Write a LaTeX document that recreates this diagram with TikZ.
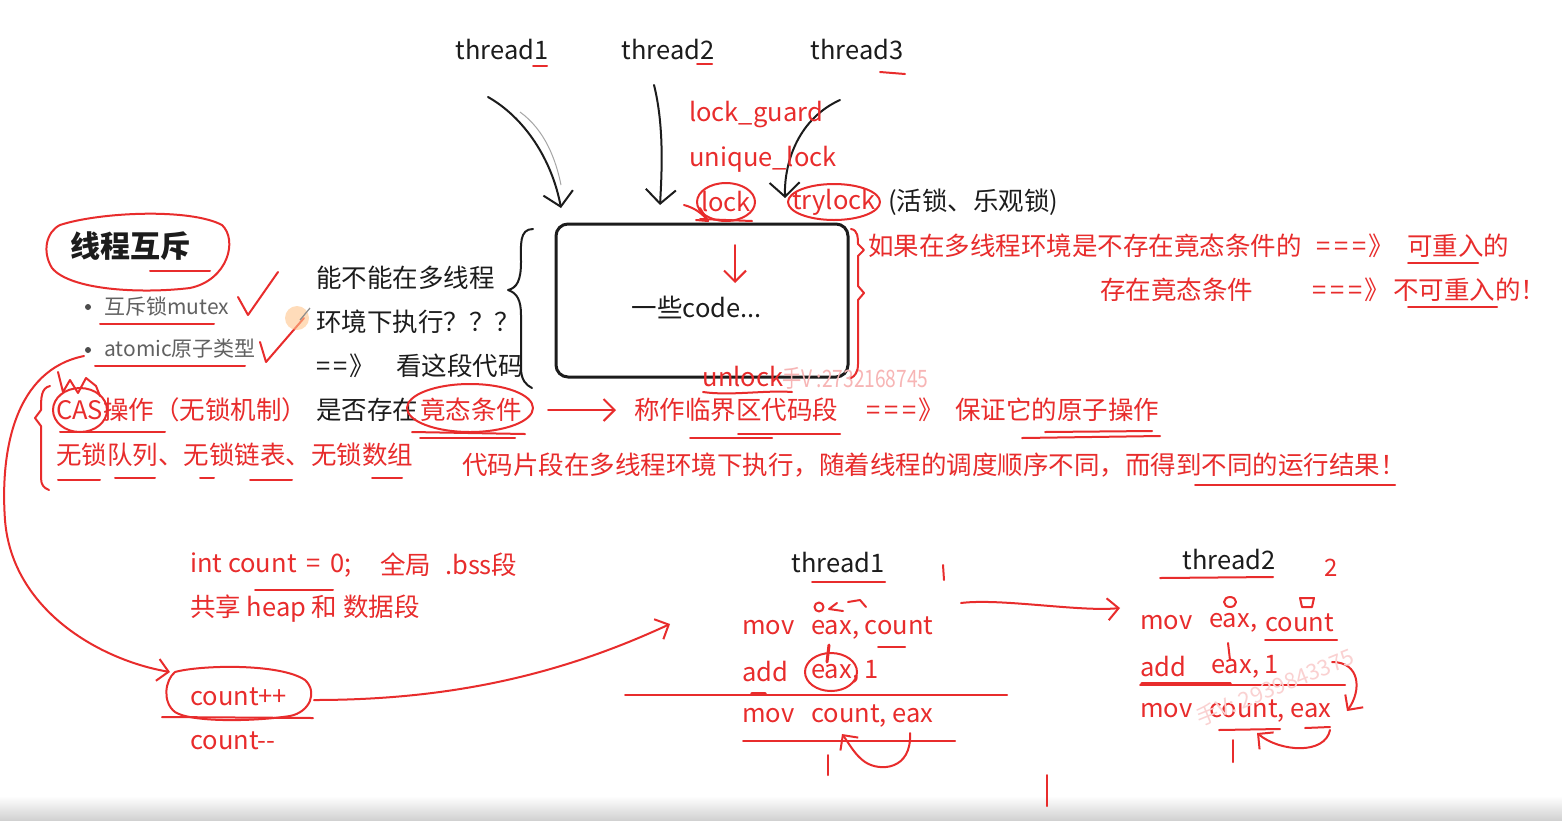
\documentclass[tikz,border=0pt]{standalone}
\usepackage{fontspec}
\setmainfont{Noto Sans CJK SC}
\usetikzlibrary{arrows.meta}
\definecolor{pen}{RGB}{232,44,44}
\definecolor{ink}{RGB}{28,28,28}
\newcommand\eqq{=\hspace{4pt}=\hspace{4pt}=\hspace{2pt}》}
\begin{document}
\begin{tikzpicture}[x=1pt,y=-1pt,
  txt/.style={anchor=west,inner sep=0pt,font=\fontsize{25.5}{30}\selectfont},
  rt/.style={txt,text=pen},
  kt/.style={txt,text=ink},
  gt/.style={anchor=west,inner sep=0pt,font=\fontsize{21}{25}\selectfont,text=black!62},
  rl/.style={draw=pen,line width=2pt,line cap=round,line join=round},
  kl/.style={draw=ink,line width=2pt,line cap=round,line join=round},
  kar/.style={kl,-{Straight Barb[length=14pt,width=30pt]}},
  rar/.style={rl,-{Straight Barb[length=11pt,width=22pt]}},
]
\useasboundingbox (0,0) rectangle (1562,820);
\fill[white] (0,0) rectangle (1562,820);
\shade[top color=white,bottom color=black!18] (0,796) rectangle (1562,820);

% ---- top threads
\node[kt,anchor=center] (t1) at (502,50) {thread1};
\node[kt,anchor=center] (t2) at (668,50) {thread2};
\node[kt,anchor=center] (t3) at (857,50) {thread3};
\draw[rl] (533,66) -- (547,66);
\draw[rl] (697,64) -- (712,64);
\draw[rl] (880,72) -- (905,74);

% ---- critical box
\node[draw=ink,line width=3pt,rounded corners=12pt,minimum width=292pt,minimum height=153pt,inner sep=0pt] (box) at (702,300.5) {};
\node[kt,anchor=center] (code) at (697,307) {一些code...};
\coordinate (ra1) at (735,245); \coordinate (ra2) at (735,283);
\draw[rar] (ra1) -- (ra2);

% thread arrows
\coordinate (a1s) at (488,97); \coordinate (a1e) at (561,208);
\coordinate (a2s) at (654,85); \coordinate (a2e) at (660,205);
\coordinate (a3s) at (840,100); \coordinate (a3e) at (785,198);
\draw[black!35,line width=1pt] (520,112) .. controls (545,130) and (556,160) .. (561,185);
\draw[kar] (a1s) .. controls (525,118) and (552,160) .. (a1e);
\draw[kar] (a2s) .. controls (664,125) and (662,170) .. (a2e);
\draw[kar] (a3s) .. controls (800,118) and (784,160) .. (a3e);

% locks
\node[rt] (lg) at (689,115) {lock\_guard};
\node[rt] (ul) at (689,159) {unique\_lock};
\node[rt,anchor=center] (lk) at (726,202) {lock};
\node[rt,anchor=center] (tl) at (834,202) {trylock};
\node[kt] (hq) at (888,202) {(活锁、乐观锁)};
\draw[rl] (lk) ellipse [x radius=29,y radius=19];
\draw[rl] (tl) ellipse [x radius=46,y radius=18];
\draw[rl] (684,205) .. controls (695,208) and (703,214) .. (708,221);
\draw[rl] (700,208) -- (708,221) -- (696,220);
\draw[rl] (700,219) -- (752,221);

% left question
\node[kt] (q1) at (316,278) {能不能在多线程};
\node[kt] (q2) at (316,322) {环境下执行？？？};
\node[kt] (q3) at (316,366) {=\hspace{3pt}=\hspace{2pt}》};
\node[kt] (q3b) at (396,366) {看这段代码};
\node[kt] (q4) at (316,410) {是否存在};
\node[rt] (jt) at (420,410) {竟态条件};
\draw[kl] (533,229) .. controls (519,229) and (521,245) .. (521,262) .. controls (521,280) and (517,288) .. (508,290) .. controls (517,293) and (521,300) .. (521,315) -- (521,368) .. controls (521,380) and (526,385) .. (532,388);
\draw[rl] (470,408) ellipse [x radius=63,y radius=24];
\draw[rl] (412,432) -- (525,434);
\draw[rl] (420,438) -- (515,438);

\coordinate (ar1) at (548,410); \coordinate (ar2) at (616,410);
\draw[rar] (ar1) -- (ar2);
\node[rt] (lj) at (634,410) {称作临界区代码段};
\node[rt] (eq2) at (866,410) {\eqq};
\node[rt] (bz) at (955,410) {保证它的原子操作};
\draw[rl] (690,438) -- (772,438);
\draw[rl] (738,434) -- (840,434);
\draw[rl] (1022,438) -- (1160,436);
\draw[rl] (1045,432) -- (1152,431);

% unlock + watermark
\node[rt,anchor=center] (un) at (743,377) {unlock};
\draw[rl] (703,392) .. controls (730,396) and (765,390) .. (792,392);
\node[anchor=west,inner sep=0pt,text=pen!35,font=\fontsize{24}{28}\selectfont,xscale=.8] (wm1) at (782,378) {手V :2732168745};

% right brace and texts
\draw[rl] (851,229) .. controls (858,230) and (858,238) .. (858,244) -- (864,250) -- (858,256) -- (858,286) -- (864,293) -- (858,300) -- (858,364) .. controls (858,372) and (855,376) .. (851,378);
\node[rt] (rr1) at (868,246) {如果在多线程环境是不存在竟态条件的};
\node[rt] (rr1e) at (1316,246) {\eqq};
\node[rt] (rr1k) at (1407,246) {可重入的};
\node[rt] (rr2) at (1100,290) {存在竟态条件};
\node[rt] (rr2e) at (1312,290) {\eqq};
\node[rt] (rr2k) at (1393,290) {不可重入的！};
\draw[rl] (1408,263) -- (1478,263);
\draw[rl] (1408,307) -- (1497,307);

% title + bullets
\node[kt,font=\bfseries\fontsize{30}{34}\selectfont,anchor=center] (title) at (130,246) {线程互斥};
\draw[rl] (60,225) .. controls (100,212) and (190,208) .. (222,225) .. controls (238,240) and (228,280) .. (190,288) .. controls (140,294) and (70,290) .. (52,268) .. controls (42,252) and (46,232) .. (60,225);
\draw[rl] (150,271) -- (210,271);
\fill[black!70] (88,307) circle (3);
\node[gt] (b1) at (104,306) {互斥锁mutex};
\fill[black!70] (88,350) circle (3);
\node[gt] (b2) at (104,349) {atomic原子类型};
\draw[rl] (100,324) -- (214,324);
\draw[rl] (95,366) -- (245,366);
\draw[rl] (238,297) -- (248,315) -- (278,272);
\draw[rl] (260,342) -- (266,362) -- (304,318);
\fill[orange!45,opacity=.6] (297,318) circle (12);
\draw[black!45,line width=1.2pt] (300,320) -- (310,308);

% CAS part
\node[rt] (cas) at (56,410) {CAS操作（无锁机制）};
\node[rt] (wl) at (56,455) {无锁队列、无锁链表、无锁数组};
\draw[rl] (80,410) ellipse [x radius=27,y radius=22];
\draw[rl] (58,372) -- (63,392) -- (70,380) -- (78,393) -- (86,378) -- (96,386) -- (100,396);
\draw[rl] (50,386) .. controls (41,388) and (41,398) .. (41,410) -- (35,418) -- (41,426) -- (41,478) .. controls (41,485) and (44,488) .. (49,490);
\draw[rl] (60,432) -- (165,432);
\draw[rl] (58,480) -- (100,480);
\draw[rl] (115,478) -- (155,478);
\draw[rl] (200,478) -- (214,478);
\draw[rl] (250,480) -- (292,480);
\draw[rl] (372,478) -- (402,478);

\node[rt] (dm) at (462,465) {代码片段在多线程环境下执行，随着线程的调度顺序不同，而得到不同的运行结果！};
\draw[rl] (1195,485) -- (1395,485);

% globals
\node[rt] (ic) at (190,565) {int count\hspace{4pt} =\hspace{4pt} 0;};
\node[rt] (gj) at (380,565) {全局};
\node[rt] (bss) at (445,565) {.bss段};
\draw[rl] (255,590) -- (333,590);
\node[rt] (gx) at (190,609) {共享 heap 和 数据段};
\node[rt] (cpp) at (190,697) {count++};
\node[rt] (cmm) at (190,741) {count-{}-};
\draw[rl] (175,672) .. controls (200,665) and (280,663) .. (305,680) .. controls (318,692) and (310,712) .. (290,716) .. controls (250,722) and (190,722) .. (175,712) .. controls (162,702) and (165,680) .. (175,672);
\draw[rl] (162,717) -- (313,718);

% big curve to count++
\coordinate (cv1) at (84,356); \coordinate (cv2) at (170,672);
\draw[rar] (cv1) .. controls (15,370) and (0,450) .. (5,520) .. controls (12,610) and (100,660) .. (cv2);
% curve to thread1 code
\coordinate (cv3) at (314,700); \coordinate (cv4) at (670,624);
\draw[rar] (cv3) .. controls (450,700) and (560,675) .. (cv4);

% thread1 code
\node[kt,anchor=center] (tb1) at (838,563) {thread1};
\draw[rl] (812,582) -- (885,582);
\draw[rl] (943,565) -- (944,580);
\node[rt] (m1a) at (742,628) {mov};
\node[rt] (m1b) at (811,628) {eax, count};
\node[rt] (m2a) at (742,672) {add};
\node[rt] (m2b) at (811,672) {eax, 1};
\node[rt] (m3a) at (742,716) {mov};
\node[rt] (m3b) at (811,716) {count, eax};
\draw[rl] (819,607) circle (4.5);
\draw[rl] (837,603) -- (829,609) -- (843,611);
\draw[rl] (848,602) -- (860,600) -- (866,607);
\draw[rl] (878,647) -- (905,647);
\draw[rl,line width=3pt] (829,645) -- (827,662);
\draw[rl] (831,672) ellipse [x radius=26,y radius=19];
\draw[rl] (625,695) -- (1007,695);
\draw[rl,line width=3.5pt] (752,694) -- (765,694);
\draw[rl] (743,741) -- (955,741);
\coordinate (c1s) at (910,733); \coordinate (c1e) at (842,734);
\draw[rar] (c1s) .. controls (912,770) and (880,772) .. (865,762) .. controls (855,755) and (850,745) .. (c1e);
\draw[rl] (828,755) -- (828,775);

% arrow thread1 -> thread2
\coordinate (c2s) at (961,603); \coordinate (c2e) at (1120,608);
\draw[rar] (c2s) .. controls (1000,598) and (1080,612) .. (c2e);

% thread2 code
\node[kt,anchor=center] (tb2) at (1229,560) {thread2};
\draw[rl] (1160,578) -- (1273,577);
\node[rt,font=\fontsize{24}{28}\selectfont,anchor=center] (n2) at (1331,568) {2};
\node[rt] (p1a) at (1140,623) {mov};
\node[rt] (p1b) at (1209,623) {eax,};
\node[rt] (p1c) at (1265,623) {count};
\node[rt] (p2a) at (1140,667) {add};
\node[rt] (p2b) at (1211,667) {eax, 1};
\node[rt] (p3a) at (1140,711) {mov};
\node[rt] (p3b) at (1209,711) {count, eax};
\draw[rl] (1230,602) ellipse [x radius=6,y radius=5];
\draw[rl] (1300,598) -- (1314,598) -- (1312,607) -- (1302,607) -- cycle;
\draw[rl] (1265,640) -- (1337,640);
\draw[rl] (1228,643) -- (1230,660);
\draw[rl] (1140,685) -- (1345,685);
\draw[rl,line width=3.5pt] (1142,684) -- (1230,684);
\coordinate (d1s) at (1332,662); \coordinate (d1e) at (1347,711);
\draw[rar] (d1s) .. controls (1360,662) and (1362,690) .. (d1e);
\draw[rl] (1219,730) -- (1280,729);
\draw[rl] (1305,728) -- (1330,727);
\coordinate (d2s) at (1330,730); \coordinate (d2e) at (1257,733);
\draw[rar] (d2s) .. controls (1325,755) and (1280,752) .. (d2e);
\draw[rl] (1233,740) -- (1233,762);
\node[text=pen!22,font=\fontsize{22}{26}\selectfont,rotate=22,inner sep=0pt] (wm2) at (1275,687) {手V: 2939843375};

\draw[rl] (1047,775) -- (1047,806);
\end{tikzpicture}
\end{document}
